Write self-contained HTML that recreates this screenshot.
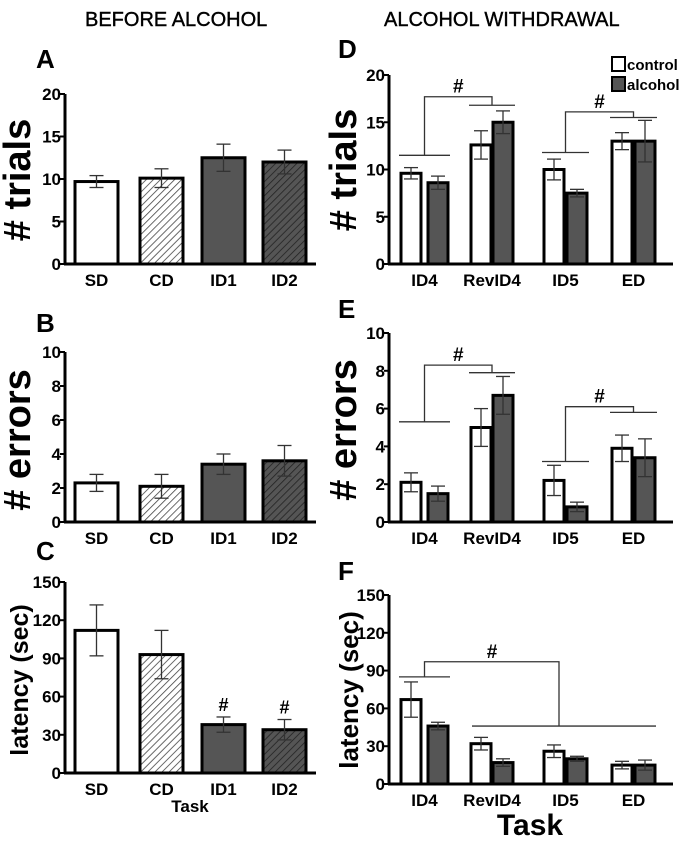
<!DOCTYPE html>
<html><head><meta charset="utf-8"><style>
body{margin:0;background:#fff}
svg{display:block;font-family:"Liberation Sans",Arial,sans-serif;font-weight:bold}
</style></head><body>
<svg id="fig" width="685" height="843" viewBox="0 0 685 843">
<defs>
<pattern id="hatchL" width="5" height="5" patternUnits="userSpaceOnUse" patternTransform="rotate(45)"><rect width="5" height="5" fill="#fff"/><line x1="0" y1="0" x2="0" y2="5" stroke="#444" stroke-width="1.6"/></pattern>
<pattern id="hatchD" width="5" height="5" patternUnits="userSpaceOnUse" patternTransform="rotate(45)"><rect width="5" height="5" fill="#555"/><line x1="0" y1="0" x2="0" y2="5" stroke="#222" stroke-width="1.6"/></pattern>
</defs>
<text x="85" y="26" font-size="20" font-weight="normal" stroke="#000" stroke-width="0.4">BEFORE ALCOHOL</text>
<text x="384" y="26" font-size="20" font-weight="normal" stroke="#000" stroke-width="0.4">ALCOHOL WITHDRAWAL</text>
<rect x="612" y="57" width="13" height="14" fill="#fff" stroke="#000" stroke-width="2"/>
<text x="627" y="70" font-size="15">control</text>
<rect x="612" y="77" width="13" height="14" fill="#555" stroke="#000" stroke-width="2"/>
<text x="627" y="90" font-size="15">alcohol</text>
</svg>
<script>
// Left panels
const leftCats = ["SD","CD","ID1","ID2"];
const aVals = [9.7,10.1,12.5,12.0];
const aErr = [0.7,1.1,1.6,1.4];
const bVals = [2.3,2.1,3.4,3.6];
const bErr = [0.5,0.7,0.6,0.9];
const cVals = [112,93,38,34];
const cErr = [20,19,6,8];
const cSig = ["","","#","#"];
// Right panels
const rightCats = ["ID4","RevID4","ID5","ED"];
const dCtrl = [9.6,12.6,10.0,13.0];
const dCtrlErr = [0.6,1.5,1.1,0.9];
const dAlc = [8.6,15.0,7.5,13.0];
const dAlcErr = [0.7,1.2,0.4,2.2];
const eCtrl = [2.1,5.0,2.2,3.9];
const eCtrlErr = [0.5,1.0,0.8,0.7];
const eAlc = [1.5,6.7,0.8,3.4];
const eAlcErr = [0.4,1.0,0.25,1.0];
const fCtrl = [67,32,26,15];
const fCtrlErr = [14,5,5,3];
const fAlc = [46,17,20,15];
const fAlcErr = [3,3,2,4];
const ticksA = [0,5,10,15,20];
const ticksB = [0,2,4,6,8,10];
const ticksC = [0,30,60,90,120,150];

const svg = document.getElementById('fig');
const NS = "http://www.w3.org/2000/svg";
function mk(tag, attrs, name, parent){
  const el = document.createElementNS(NS, tag);
  for (const k in attrs) el.setAttribute(k, attrs[k]);
  
  
  (parent||svg).appendChild(el);
  return el;
}
function txt(x,y,s,size,name,anchor,rot){
  const t = mk('text',{x:x,y:y,'font-size':size,'text-anchor':anchor||'start'},name);
  if(rot) t.setAttribute('transform','rotate(-90 '+x+' '+y+')');
  t.textContent = s; return t;
}
function panel(p){
  const sy = v => p.y0 - (v - 0)/p.max*(p.y0 - p.yTop);
  p.sy = sy;
  mk('line',{x1:p.ax,y1:p.yTop,x2:p.ax,y2:p.y0+1,stroke:'#000','stroke-width':3},p.id+'-y-axis');
  mk('line',{x1:p.ax-1,y1:p.y0,x2:p.xEnd,y2:p.y0,stroke:'#000','stroke-width':3},p.id+'-x-axis');
  p.ticks.forEach(t=>{
    const y = sy(t);
    mk('line',{x1:p.ax-5,y1:y,x2:p.ax,y2:y,stroke:'#000','stroke-width':2},p.id+'-y-tick');
    txt(p.ax-4,y+6,String(t),17,p.id+'-y-tick-label','end');
  });
  txt(p.letterX,p.letterY,p.letter,26,p.id+'-panel-letter');
  txt(p.titleX,p.titleY,p.title,p.titleSize,p.id+'-y-axis-title','middle',true);
  return sy;
}
function bar(p,x,w,v,e,fill,name){
  const sy=p.sy;
  mk('rect',{x:x,y:sy(v),width:w,height:p.y0-sy(v),fill:fill,stroke:'#000','stroke-width':3},name);
  const cx=x+w/2;
  mk('line',{x1:cx,y1:sy(v+e),x2:cx,y2:sy(Math.max(0,v-e)),stroke:'#333','stroke-width':1.3},name+'-error');
  mk('line',{x1:cx-7,y1:sy(v+e),x2:cx+7,y2:sy(v+e),stroke:'#333','stroke-width':1.3},name+'-error-cap');
  mk('line',{x1:cx-7,y1:sy(Math.max(0,v-e)),x2:cx+7,y2:sy(Math.max(0,v-e)),stroke:'#333','stroke-width':1.3},name+'-error-cap');
}
const leftX = [75,140,202,263];
const leftFill = ['#fff','url(#hatchL)','#555','url(#hatchD)'];
function leftPanel(p,vals,errs,sig,labY){
  panel(p);
  leftCats.forEach((c,i)=>{
    bar(p,leftX[i],43,vals[i],errs[i],leftFill[i],p.id+'-bar-'+c);
    txt(leftX[i]+21.5,labY,c,17,p.id+'-x-label','middle');
    if(sig && sig[i]) txt(leftX[i]+21.5,p.sy(vals[i]+errs[i])-6,sig[i],18,p.id+'-sig-mark','middle');
  });
}
const pA={id:'a',ax:65,yTop:94,y0:264,xEnd:316,max:20,ticks:ticksA,letter:'A',letterX:36,letterY:68,title:'# trials',titleX:30,titleY:180,titleSize:38};
leftPanel(pA,aVals,aErr,null,286);
const pB={id:'b',ax:65,yTop:352,y0:522,xEnd:316,max:10,ticks:ticksB,letter:'B',letterX:36,letterY:332,title:'# errors',titleX:30,titleY:440,titleSize:38};
leftPanel(pB,bVals,bErr,null,544);
const pC={id:'c',ax:65,yTop:582,y0:773,xEnd:316,max:150,ticks:ticksC,letter:'C',letterX:36,letterY:560,title:'latency (sec)',titleX:28,titleY:680,titleSize:25};
leftPanel(pC,cVals,cErr,cSig,795);
txt(190,812,'Task',17,'c-x-axis-title','middle');

const rC=[401,471,544,612], rA=[428,493,567,635];
function rightPanel(p,c,ce,a,ae,labY){
  panel(p);
  rightCats.forEach((cat,i)=>{
    bar(p,rC[i],20,c[i],ce[i],'#fff',p.id+'-bar-control-'+cat);
    bar(p,rA[i],20,a[i],ae[i],'#555',p.id+'-bar-alcohol-'+cat);
    txt((rC[i]+rA[i]+20)/2,labY,cat,17,p.id+'-x-label','middle');
  });
}
function bracket(p,i1,v1,top,i2,v2,name){
  const sy=p.sy, g='#333';
  const l1=rC[i1]-2,r1=rA[i1]+22,m1=(l1+r1)/2;
  const l2=rC[i2]-2,r2=rA[i2]+22,m2=(l2+r2)/2;
  mk('line',{x1:l1,y1:sy(v1),x2:r1,y2:sy(v1),stroke:g,'stroke-width':1.3},name);
  mk('line',{x1:l2,y1:sy(v2),x2:r2,y2:sy(v2),stroke:g,'stroke-width':1.3},name);
  mk('polyline',{points:m1+','+sy(v1)+' '+m1+','+sy(top)+' '+m2+','+sy(top)+' '+m2+','+sy(v2),fill:'none',stroke:g,'stroke-width':1.3},name);
  txt((m1+m2)/2,sy(top)-4,'#',19,name+'-mark','middle');
}
const pD={id:'d',ax:389,yTop:75,y0:264,xEnd:673,max:20,ticks:ticksA,letter:'D',letterX:338,letterY:58,title:'# trials',titleX:356,titleY:170,titleSize:38};
rightPanel(pD,dCtrl,dCtrlErr,dAlc,dAlcErr,286);
bracket(pD,0,11.5,17.7,1,16.8,'d-sig-bracket-1');
bracket(pD,2,11.8,16.1,3,15.5,'d-sig-bracket-2');
const pE={id:'e',ax:389,yTop:333,y0:522,xEnd:673,max:10,ticks:ticksB,letter:'E',letterX:338,letterY:318,title:'# errors',titleX:356,titleY:430,titleSize:38};
rightPanel(pE,eCtrl,eCtrlErr,eAlc,eAlcErr,544);
bracket(pE,0,5.3,8.3,1,7.9,'e-sig-bracket-1');
bracket(pE,2,3.2,6.1,3,5.8,'e-sig-bracket-2');
const pF={id:'f',ax:389,yTop:595,y0:784,xEnd:673,max:150,ticks:ticksC,letter:'F',letterX:338,letterY:580,title:'latency (sec)',titleX:358,titleY:690,titleSize:26};
rightPanel(pF,fCtrl,fCtrlErr,fAlc,fAlcErr,806);
(function(){
  const sy=pF.sy,g='#333';
  const l1=rC[0]-2,r1=rA[0]+22,m1=(l1+r1)/2;
  mk('line',{x1:l1,y1:sy(85),x2:r1,y2:sy(85),stroke:g,'stroke-width':1.3},'f-sig-bracket');
  mk('line',{x1:472,y1:sy(46),x2:656,y2:sy(46),stroke:g,'stroke-width':1.3},'f-sig-bracket');
  mk('polyline',{points:m1+','+sy(85)+' '+m1+','+sy(97)+' 559,'+sy(97)+' 559,'+sy(46),fill:'none',stroke:g,'stroke-width':1.3},'f-sig-bracket');
  txt(492,sy(97)-4,'#',19,'f-sig-bracket-mark','middle');
})();
txt(530,835,'Task',30,'f-x-axis-title','middle');
</script>
</body></html>
